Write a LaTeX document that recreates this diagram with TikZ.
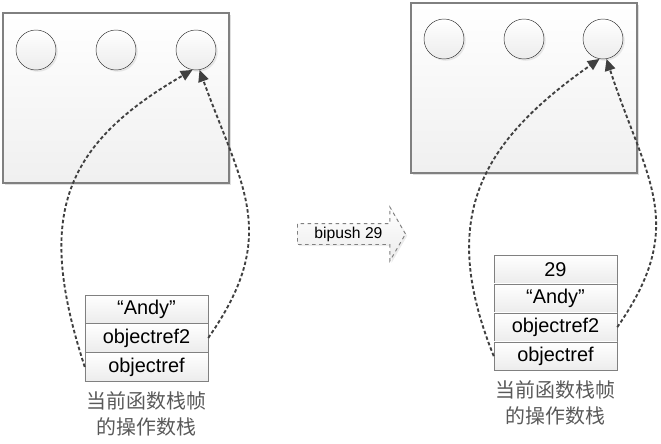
\documentclass[tikz,border=0pt]{standalone}
\usepackage{fontspec}
\setmainfont{Liberation Sans}
\newfontfamily\cjk{Noto Sans CJK SC}
\usetikzlibrary{positioning}
\usetikzlibrary{shapes.arrows}
\usetikzlibrary{shadows}
\usetikzlibrary{arrows.meta}
\tikzset{
    heapbox/.style = {rectangle, draw=gray, line width=1.4pt, top color=white, bottom color=gray!12, minimum width=6.78cm, minimum height=5.1cm, drop shadow={shadow xshift=2pt, shadow yshift=-2pt, fill=gray!50}},
    objnode/.style = {circle, draw=black!80, thin, top color=white, bottom color=gray!15, minimum size=1.2cm, drop shadow={shadow xshift=1.5pt, shadow yshift=-1.5pt, fill=gray!35}},
    slot/.style = {rectangle, draw=gray, top color=white, bottom color=gray!15, minimum width=3.69cm, minimum height=0.855cm, inner sep=0pt, font=\fontsize{17}{20}\selectfont},
    caption/.style = {align=center, text=black!65, inner sep=0pt, font=\cjk\fontsize{17}{22}\selectfont},
    refline/.style = {-{Triangle[length=10pt,width=9pt]}, line width=1.6pt, black!75, dash pattern=on 3pt off 2pt},
}
\begin{document}
\begin{tikzpicture}[x=0.03cm, y=-0.03cm]
\useasboundingbox (0,0) rectangle (661,444);
% left frame
\node[heapbox] at (116,98) (heapa) {};
\node[objnode] at (36,50) (a1) {};
\node[objnode] at (116,50) (a2) {};
\node[objnode] at (196,50) (a3) {};
%
\node[slot] at (146.5,309) (andya) {“Andy”};
\node[slot, below=0pt of andya] (refa2) {objectref2};
\node[slot, below=0pt of refa2] (refa1) {objectref};
\node[caption, below=0.3cm of refa1] (capa) {当前函数栈帧\\的操作数栈};
%
\draw[refline] (refa1.west) to[out=108, in=-150, looseness=1.25] (a3.-100);
\draw[refline] (refa2.east) to[out=55, in=-70, looseness=1.2] (a3.-80);
% step arrow
\node[single arrow, draw=gray, dashed, line width=0.8pt, top color=white, bottom color=gray!15,
      minimum height=3.24cm, minimum width=1.62cm, single arrow head extend=0.48cm,
      single arrow tip angle=120, inner sep=2pt, anchor=tail,
      font=\fontsize{13.4}{15}\selectfont,
      drop shadow={shadow xshift=1.5pt, shadow yshift=-1.5pt, fill=gray!30}] at (297,234) (push) {bipush 29};
% right frame
\node[heapbox] at (524,88) (heapb) {};
\node[objnode] at (444,39) (b1) {};
\node[objnode] at (524,39) (b2) {};
\node[objnode] at (603,39) (b3) {};
%
\node[slot] at (555.5,269.25) (num) {29};
\node[slot, below=0pt of num] (andyb) {“Andy”};
\node[slot, below=0pt of andyb] (refb2) {objectref2};
\node[slot, below=0pt of refb2] (refb1) {objectref};
\node[caption, below=0.3cm of refb1] (capb) {当前函数栈帧\\的操作数栈};
%
\draw[refline] (refb1.west) to[out=112, in=-145, looseness=1.2] (b3.-100);
\draw[refline] (refb2.east) to[out=55, in=-72, looseness=1.2] (b3.-80);
\end{tikzpicture}
\end{document}
